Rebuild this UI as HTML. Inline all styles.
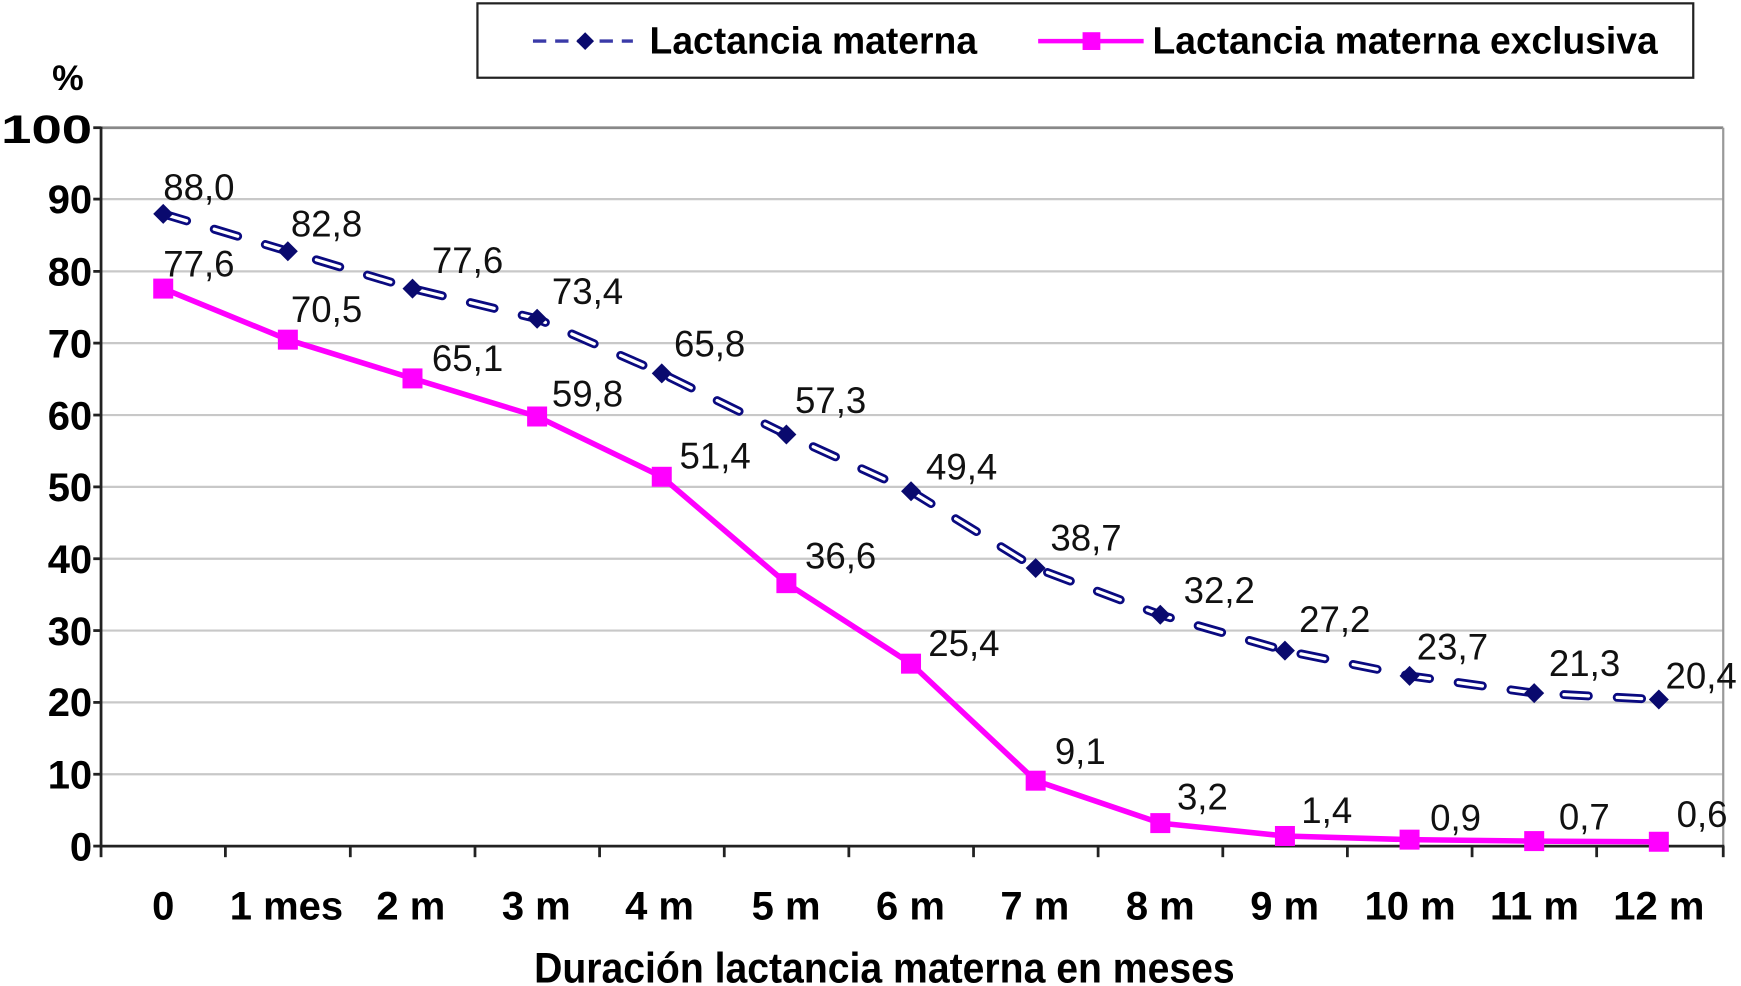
<!DOCTYPE html>
<html><head><meta charset="utf-8"><style>html,body{margin:0;padding:0;background:#fff}svg{display:block}</style></head>
<body>
<svg width="1741" height="986" viewBox="0 0 1568 888" xmlns="http://www.w3.org/2000/svg" font-family="Liberation Sans, Arial, sans-serif">
<rect width="1568" height="888" fill="#fff"/>
<g stroke="#c8c8c8" stroke-width="2">
<line x1="91" y1="179.3" x2="1552" y2="179.3"/><line x1="91" y1="244.4" x2="1552" y2="244.4"/>
<line x1="91" y1="309" x2="1552" y2="309"/><line x1="91" y1="373.8" x2="1552" y2="373.8"/>
<line x1="91" y1="438.5" x2="1552" y2="438.5"/><line x1="91" y1="503.2" x2="1552" y2="503.2"/>
<line x1="91" y1="567.9" x2="1552" y2="567.9"/><line x1="91" y1="632.6" x2="1552" y2="632.6"/>
<line x1="91" y1="697.3" x2="1552" y2="697.3"/>
</g>
<line x1="91" y1="115" x2="1552" y2="115" stroke="#888" stroke-width="2.5"/>
<line x1="1552" y1="115" x2="1552" y2="762" stroke="#999" stroke-width="2"/>
<g stroke="#222" stroke-width="2.5">
<line x1="91" y1="114" x2="91" y2="763"/>
<line x1="90" y1="762" x2="1553" y2="762"/>
<line x1="84" y1="115" x2="91" y2="115"/><line x1="84" y1="179.3" x2="91" y2="179.3"/><line x1="84" y1="244.4" x2="91" y2="244.4"/>
<line x1="84" y1="309" x2="91" y2="309"/><line x1="84" y1="373.8" x2="91" y2="373.8"/><line x1="84" y1="438.5" x2="91" y2="438.5"/>
<line x1="84" y1="503.2" x2="91" y2="503.2"/><line x1="84" y1="567.9" x2="91" y2="567.9"/><line x1="84" y1="632.6" x2="91" y2="632.6"/>
<line x1="84" y1="697.3" x2="91" y2="697.3"/><line x1="84" y1="762" x2="91" y2="762"/>
<line x1="91" y1="762" x2="91" y2="772"/><line x1="203" y1="762" x2="203" y2="772"/><line x1="315.5" y1="762" x2="315.5" y2="772"/>
<line x1="427.8" y1="762" x2="427.8" y2="772"/><line x1="540" y1="762" x2="540" y2="772"/><line x1="652.3" y1="762" x2="652.3" y2="772"/>
<line x1="764.5" y1="762" x2="764.5" y2="772"/><line x1="876.8" y1="762" x2="876.8" y2="772"/><line x1="989" y1="762" x2="989" y2="772"/>
<line x1="1101.3" y1="762" x2="1101.3" y2="772"/><line x1="1213.5" y1="762" x2="1213.5" y2="772"/><line x1="1325.8" y1="762" x2="1325.8" y2="772"/>
<line x1="1438" y1="762" x2="1438" y2="772"/><line x1="1552" y1="762" x2="1552" y2="772"/>
</g>
<g font-weight="bold" font-size="36" text-anchor="end" fill="#000">
<text x="83" y="129" textLength="82" lengthAdjust="spacingAndGlyphs">100</text>
<text x="83" y="192">90</text><text x="83" y="257">80</text><text x="83" y="322">70</text>
<text x="83" y="387">60</text><text x="83" y="451">50</text><text x="83" y="516">40</text>
<text x="83" y="581">30</text><text x="83" y="645">20</text><text x="83" y="710">10</text><text x="83" y="775">0</text>
</g>
<text x="47" y="81" font-weight="bold" font-size="32">%</text>
<g font-weight="bold" font-size="36" text-anchor="middle" fill="#000">
<text x="147" y="828">0</text><text x="258" y="828">1 mes</text><text x="370" y="828">2 m</text>
<text x="483" y="828">3  m</text><text x="594" y="828">4 m</text><text x="708" y="828">5 m</text>
<text x="820" y="828">6 m</text><text x="932" y="828">7 m</text><text x="1045" y="828">8 m</text>
<text x="1157" y="828">9 m</text><text x="1270" y="828">10 m</text><text x="1382" y="828">11 m</text><text x="1494" y="828">12 m</text>
</g>
<text x="481" y="885" font-weight="bold" font-size="38" textLength="631" lengthAdjust="spacingAndGlyphs">Duración lactancia materna en meses</text>
<polyline fill="none" stroke="#0a0a80" stroke-width="8" stroke-dasharray="22 26" stroke-linecap="round" points="147,192.6 259.25,226.3 371.5,259.9 483.75,287.1 596,336.3 708.25,391.3 820.5,442.4 932.75,511.6 1045,553.7 1157.25,586 1269.5,608.7 1381.75,624.2 1494,630"/>
<polyline fill="none" stroke="#fff" stroke-width="3" stroke-dasharray="22 26" stroke-linecap="round" points="147,192.6 259.25,226.3 371.5,259.9 483.75,287.1 596,336.3 708.25,391.3 820.5,442.4 932.75,511.6 1045,553.7 1157.25,586 1269.5,608.7 1381.75,624.2 1494,630"/>
<g fill="#0a0a6e">
<path d="M147,183.6l9,9l-9,9l-9,-9z"/><path d="M259.25,217.3l9,9l-9,9l-9,-9z"/><path d="M371.5,250.9l9,9l-9,9l-9,-9z"/>
<path d="M483.75,278.1l9,9l-9,9l-9,-9z"/><path d="M596,327.3l9,9l-9,9l-9,-9z"/><path d="M708.25,382.3l9,9l-9,9l-9,-9z"/>
<path d="M820.5,433.4l9,9l-9,9l-9,-9z"/><path d="M932.75,502.6l9,9l-9,9l-9,-9z"/><path d="M1045,544.7l9,9l-9,9l-9,-9z"/>
<path d="M1157.25,577l9,9l-9,9l-9,-9z"/><path d="M1269.5,599.7l9,9l-9,9l-9,-9z"/><path d="M1381.75,615.2l9,9l-9,9l-9,-9z"/><path d="M1494,621l9,9l-9,9l-9,-9z"/>
</g>
<polyline fill="none" stroke="#ff00ff" stroke-width="5" stroke-linejoin="round" points="147,259.9 259.25,305.9 371.5,340.8 483.75,375.1 596,429.4 708.25,525.2 820.5,597.7 932.75,703.1 1045,741.3 1157.25,752.9 1269.5,756.2 1381.75,757.5 1494,758.1"/>
<g fill="#ff00ff">
<rect x="138" y="250.9" width="18" height="18"/><rect x="250.25" y="296.9" width="18" height="18"/><rect x="362.5" y="331.8" width="18" height="18"/>
<rect x="474.75" y="366.1" width="18" height="18"/><rect x="587" y="420.4" width="18" height="18"/><rect x="699.25" y="516.2" width="18" height="18"/>
<rect x="811.5" y="588.7" width="18" height="18"/><rect x="923.75" y="694.1" width="18" height="18"/><rect x="1036" y="732.3" width="18" height="18"/>
<rect x="1148.25" y="743.9" width="18" height="18"/><rect x="1260.5" y="747.2" width="18" height="18"/><rect x="1372.75" y="748.5" width="18" height="18"/><rect x="1485" y="749.1" width="18" height="18"/>
</g>
<g font-size="33" fill="#111">
<text x="147" y="180">88,0</text><text x="262" y="213">82,8</text><text x="389" y="246">77,6</text>
<text x="497" y="274">73,4</text><text x="607" y="321">65,8</text><text x="716" y="372">57,3</text>
<text x="834" y="432">49,4</text><text x="946" y="496">38,7</text><text x="1066" y="543">32,2</text>
<text x="1170" y="569">27,2</text><text x="1276" y="594">23,7</text><text x="1395" y="609">21,3</text><text x="1500" y="620">20,4</text>
<text x="147" y="249">77,6</text><text x="262" y="290">70,5</text><text x="389" y="334">65,1</text>
<text x="497" y="366">59,8</text><text x="612" y="422">51,4</text><text x="725" y="512">36,6</text>
<text x="836" y="591">25,4</text><text x="950" y="688">9,1</text><text x="1060" y="729">3,2</text>
<text x="1172" y="741">1,4</text><text x="1288" y="748">0,9</text><text x="1404" y="747">0,7</text><text x="1510" y="745">0,6</text>
</g>
<rect x="430" y="3" width="1095" height="67" fill="#fff" stroke="#222" stroke-width="2"/>
<line x1="480" y1="37" x2="570" y2="37" stroke="#3a3aa8" stroke-width="3" stroke-dasharray="12 8"/>
<path d="M527,29l8,8l-8,8l-8,-8z" fill="#0a0a6e"/>
<text x="585" y="48" font-weight="bold" font-size="34" textLength="295" lengthAdjust="spacingAndGlyphs">Lactancia materna</text>
<line x1="935" y1="37" x2="1030" y2="37" stroke="#ff00ff" stroke-width="4"/>
<rect x="975" y="29" width="16" height="16" fill="#ff00ff"/>
<text x="1038" y="48" font-weight="bold" font-size="34" textLength="455" lengthAdjust="spacingAndGlyphs">Lactancia materna exclusiva</text>
</svg>
</body></html>
